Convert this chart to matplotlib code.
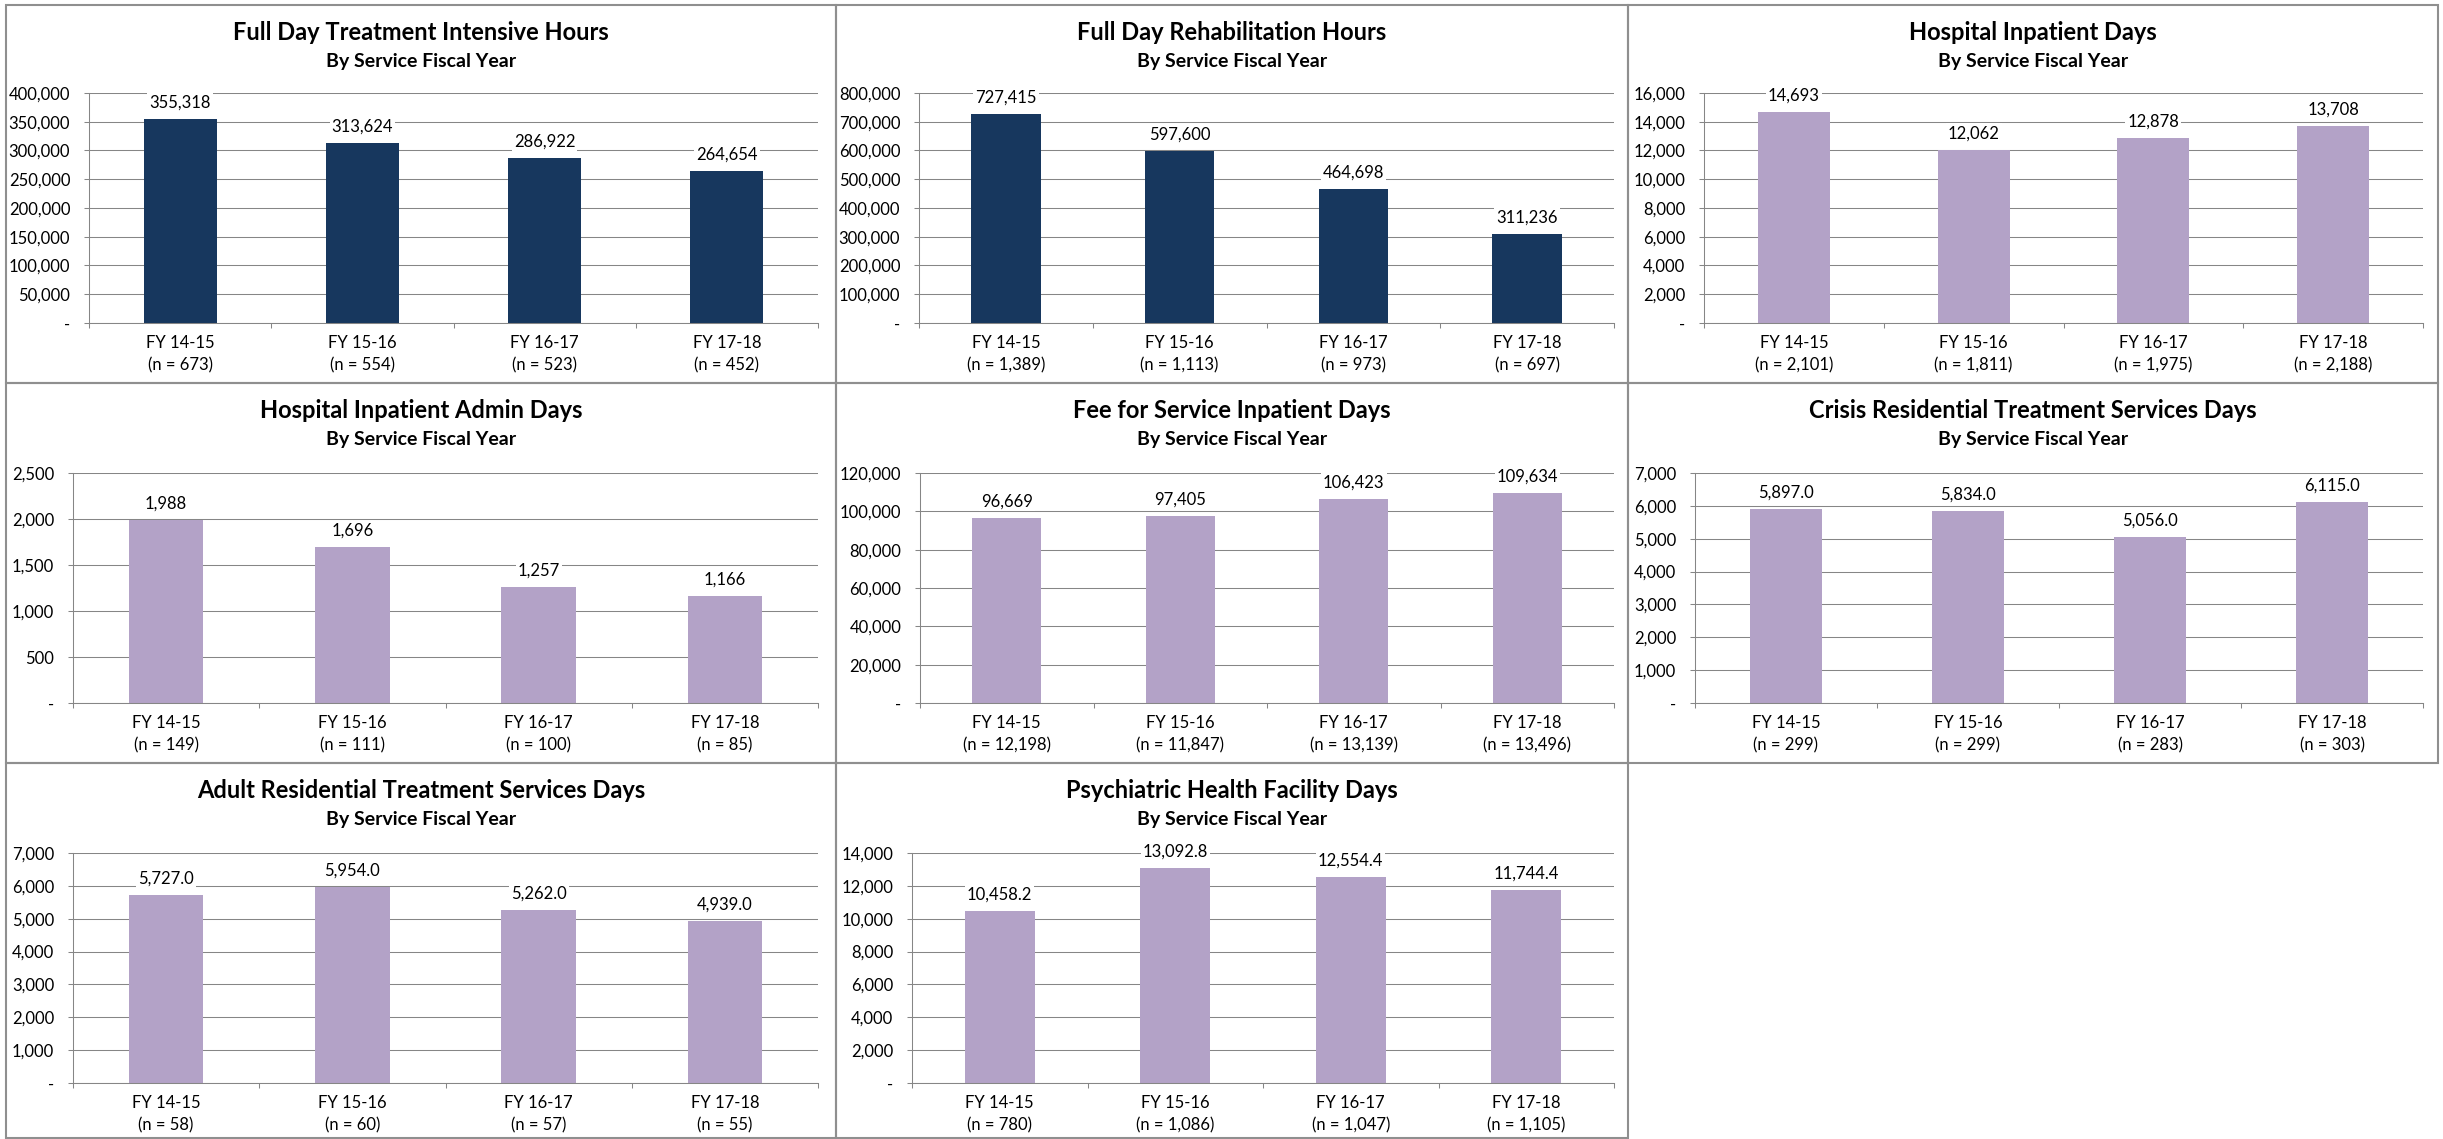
import matplotlib
matplotlib.use('Agg')
from matplotlib import pyplot as plt
from matplotlib.patches import Rectangle
import numpy as np

plt.rcParams['font.family'] = ['Lato', 'DejaVu Sans']

years = ['FY 14-15', 'FY 15-16', 'FY 16-17', 'FY 17-18']

fdti_hours = [355318, 313624, 286922, 264654]
fdti_n = [673, 554, 523, 452]
fdr_hours = [727415, 597600, 464698, 311236]
fdr_n = [1389, 1113, 973, 697]
hosp_days = [14693, 12062, 12878, 13708]
hosp_n = [2101, 1811, 1975, 2188]
admin_days = [1988, 1696, 1257, 1166]
admin_n = [149, 111, 100, 85]
ffs_days = [96669, 97405, 106423, 109634]
ffs_n = [12198, 11847, 13139, 13496]
crisis_days = [5897.0, 5834.0, 5056.0, 6115.0]
crisis_n = [299, 299, 283, 303]
adult_days = [5727.0, 5954.0, 5262.0, 4939.0]
adult_n = [58, 60, 57, 55]
phf_days = [10458.2, 13092.8, 12554.4, 11744.4]
phf_n = [780, 1086, 1047, 1105]

titles = ['Full Day Treatment Intensive Hours', 'Full Day Rehabilitation Hours',
          'Hospital Inpatient Days', 'Hospital Inpatient Admin Days',
          'Fee for Service Inpatient Days', 'Crisis Residential Treatment Services Days',
          'Adult Residential Treatment Services Days', 'Psychiatric Health Facility Days']
subtitle = 'By Service Fiscal Year'

NAVY = '#17375E'
LILAC = '#B3A2C7'
GRID = '#868686'
BORDER = '#8f8f8f'

# (values, counts, ymax, step, decimals, colour)
panels = [
    (fdti_hours, fdti_n, 400000, 50000, 0, NAVY),
    (fdr_hours, fdr_n, 800000, 100000, 0, NAVY),
    (hosp_days, hosp_n, 16000, 2000, 0, LILAC),
    (admin_days, admin_n, 2500, 500, 0, LILAC),
    (ffs_days, ffs_n, 120000, 20000, 0, LILAC),
    (crisis_days, crisis_n, 7000, 1000, 1, LILAC),
    (adult_days, adult_n, 7000, 1000, 1, LILAC),
    (phf_days, phf_n, 14000, 2000, 1, LILAC),
]

W, H = 2443, 1139
fig = plt.figure(figsize=(W / 100, H / 100), dpi=100)

col_edges = [(6, 836), (836, 1628), (1628, 2438)]
row_edges = [(5, 383), (383, 763), (763, 1138)]
plot_left = [89, 919, 1704, 73, 920, 1695, 73, 912]
plot_right = [818, 1614, 2423]


def fx(px):
    return px / W


def fy(py):
    return 1 - py / H


def yfmt(v):
    return '-' if v == 0 else f'{v:,.0f}'


for k, (vals, ns, ymax, step, dec, colour) in enumerate(panels):
    r, c = divmod(k, 3)
    x0, x1 = col_edges[c]
    y0, y1 = row_edges[r]

    fig.add_artist(Rectangle((fx(x0), fy(y1)), (x1 - x0) / W, (y1 - y0) / H,
                             transform=fig.transFigure, fill=False,
                             ec=BORDER, lw=1.5))
    cx = fx((x0 + x1) / 2)
    fig.text(cx, fy(y0 + 27), titles[k], ha='center', va='center',
             fontsize=17, weight='bold')
    fig.text(cx, fy(y0 + 57), subtitle, ha='center', va='center',
             fontsize=14, weight='bold')

    top = 93 + 380 * r
    bot = 323 + 380 * r
    left = plot_left[k]
    right = plot_right[c]
    ax = fig.add_axes([fx(left), fy(bot), (right - left) / W, (bot - top) / H])

    bars = ax.bar(range(4), vals, width=0.4, color=colour, zorder=2)
    labels = [f'{v:,.{dec}f}' for v in vals]
    ax.bar_label(bars, labels=labels, padding=6, fontsize=12,
                 bbox=dict(fc='white', ec='none', pad=1.5), zorder=3)

    ax.set_xlim(-0.5, 3.5)
    ax.set_xticks([-0.5, 0.5, 1.5, 2.5, 3.5])
    ax.set_xticklabels([])
    ax.set_xticks(range(4), minor=True)
    ax.set_xticklabels([f'{y}\n(n = {n:,})' for y, n in zip(years, ns)],
                       minor=True, fontsize=12)
    for t in ax.get_xticklabels(minor=True):
        t.set_linespacing(1.45)
    ax.tick_params(axis='x', which='minor', length=0, pad=9)
    ax.tick_params(axis='x', which='major', length=3.5, color=GRID, width=0.75)

    yt = np.arange(0, ymax + step, step)
    ax.set_ylim(0, ymax)
    ax.set_yticks(yt)
    ax.set_yticklabels([yfmt(v) for v in yt], fontsize=12)
    ax.tick_params(axis='y', length=3.5, color=GRID, width=0.75, pad=10)

    ax.yaxis.grid(True, color=GRID, lw=0.75, zorder=0)
    ax.set_axisbelow(True)
    for s in ['top', 'right']:
        ax.spines[s].set_visible(False)
    for s in ['left', 'bottom']:
        ax.spines[s].set_color(GRID)
        ax.spines[s].set_linewidth(0.75)

fig.savefig('out.png', dpi=100)
